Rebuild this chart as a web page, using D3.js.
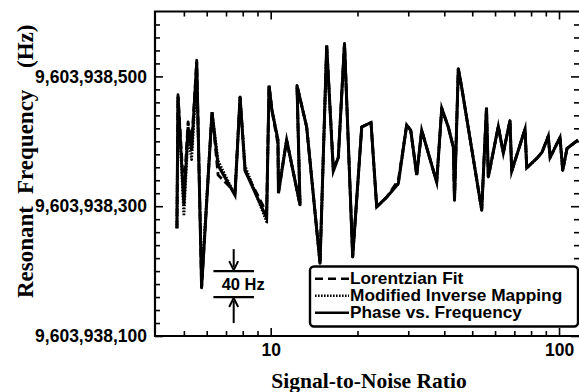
<!DOCTYPE html>
<html><head><meta charset="utf-8">
<script src="https://cdn.jsdelivr.net/npm/d3@7"></script>
<style>body{margin:0;background:#fff}svg{display:block}</style>
</head><body>
<svg id="c" width="579" height="392"></svg>
<script>
// Signal-to-noise ratio of each measurement
const snr = [4.73,4.77,5.00,5.17,5.32,5.54,5.76,6.26,6.57,7.52,7.83,8.15,9.68,9.87,10.1,10.6,10.64,11.36,12.64,12.34,13.33,14.83,15.64,16.49,17.16,18.03,19.25,20.69,22.28,23.32,25.26,27.71,29.63,30.6,32.1,33.4,37.65,39.2,41.3,43.0,43.4,44.74,45.97,53.93,56.04,56.86,61.57,64.09,67.6,68.53,76.24,77.27,83.88,87.3,91.8,93.1,100.8,103,106.6,116.4];
// Resonant frequency (Hz), Phase vs. Frequency
const phaseVsFrequency = [9603938266,9603938469,9603938302,9603938422,9603938386,9603938522,9603938174,9603938445,9603938363,9603938317,9603938468,9603938355,9603938282,9603938486,9603938448,9603938402,9603938320,9603938402,9603938302,9603938486,9603938422,9603938212,9603938548,9603938354,9603938375,9603938551,9603938222,9603938422,9603938429,9603938299,9603938314,9603938335,9603938425,9603938417,9603938348,9603938417,9603938337,9603938451,9603938422,9603938391,9603938309,9603938512,9603938483,9603938294,9603938452,9603938345,9603938423,9603938382,9603938432,9603938354,9603938419,9603938359,9603938374,9603938383,9603938408,9603938375,9603938406,9603938355,9603938389,9603938402];
// Resonant frequency (Hz), Lorentzian Fit
const lorentzianFit = [9603938266,9603938472,9603938320,9603938430,9603938395,9603938525,9603938174,9603938445,9603938348,9603938322,9603938468,9603938355,9603938290,9603938486,9603938448,9603938395,9603938320,9603938402,9603938302,9603938486,9603938422,9603938212,9603938548,9603938360,9603938375,9603938551,9603938222,9603938422,9603938429,9603938299,9603938314,9603938340,9603938425,9603938417,9603938348,9603938417,9603938337,9603938451,9603938422,9603938391,9603938309,9603938512,9603938483,9603938294,9603938452,9603938345,9603938423,9603938382,9603938432,9603938354,9603938419,9603938359,9603938374,9603938383,9603938408,9603938375,9603938406,9603938355,9603938389,9603938402];
// Resonant frequency (Hz), Modified Inverse Mapping
const modifiedInverseMapping = [9603938266,9603938469,9603938285,9603938410,9603938372,9603938505,9603938185,9603938445,9603938370,9603938317,9603938468,9603938362,9603938276,9603938486,9603938448,9603938402,9603938326,9603938402,9603938302,9603938486,9603938422,9603938212,9603938548,9603938354,9603938375,9603938551,9603938222,9603938422,9603938429,9603938299,9603938314,9603938335,9603938425,9603938417,9603938348,9603938417,9603938337,9603938451,9603938422,9603938391,9603938309,9603938512,9603938483,9603938294,9603938452,9603938345,9603938423,9603938382,9603938432,9603938354,9603938419,9603938359,9603938374,9603938383,9603938408,9603938375,9603938406,9603938355,9603938389,9603938402];

const xTickMajor = [10, 100];
const xTickMinor = [5,6,7,8,9,20,30,40,50,60,70,80,90];
const yTickMajor = [9603938100, 9603938300, 9603938500];
const yTickMinor = [9603938120,9603938140,9603938160,9603938180,9603938200,9603938220,9603938240,9603938260,9603938280,9603938320,9603938340,9603938360,9603938380,9603938400,9603938420,9603938440,9603938460,9603938480,9603938520,9603938540,9603938560,9603938580];
const legendLabels = ["Lorentzian Fit","Modified Inverse Mapping","Phase vs. Frequency"];
const scaleBarHz = [9603938160, 9603938200];
const scaleBarSnr = [6.33, 8.75];
const scaleBarText = "40 Hz";
const yTitleWords = ["Resonant", "Frequency", "(Hz)"];

const L = 155, R = 579, T = 11.5, B = 336;
const svg = d3.select("#c");
svg.append("rect").attr("width",579).attr("height",392).attr("fill","#fff");

const x = d3.scaleLog().domain([3.97, 117.3]).range([L, R]);
const y = d3.scaleLinear().domain([9603938100, 9603938600]).range([B, T]);

const sansB = "'Liberation Sans', Arial, Helvetica, sans-serif";
const serifB = "'Liberation Serif', 'Times New Roman', serif";

function styleAxis(g) {
  g.select(".domain").remove();
  g.selectAll(".tick line").attr("stroke","#000").attr("stroke-width",1.6);
  g.selectAll("text").attr("fill","#000").attr("font-family",sansB)
   .attr("font-weight","bold").attr("font-size",17.5);
}

// bottom
svg.append("g").attr("transform",`translate(0,${B})`)
  .call(d3.axisBottom(x).tickValues(xTickMajor).tickSize(-8).tickPadding(8).tickFormat(d3.format("d")))
  .call(styleAxis);
svg.append("g").attr("transform",`translate(0,${B})`)
  .call(d3.axisBottom(x).tickValues(xTickMinor).tickSize(-5).tickFormat(""))
  .call(styleAxis);
// top
svg.append("g").attr("transform",`translate(0,${T})`)
  .call(d3.axisTop(x).tickValues(xTickMajor).tickSize(-8).tickFormat(""))
  .call(styleAxis);
svg.append("g").attr("transform",`translate(0,${T})`)
  .call(d3.axisTop(x).tickValues(xTickMinor).tickSize(-5).tickFormat(""))
  .call(styleAxis);
// left
svg.append("g").attr("transform",`translate(${L},0)`)
  .call(d3.axisLeft(y).tickValues(yTickMajor).tickSize(-8).tickPadding(8).tickFormat(d3.format(",")))
  .call(styleAxis);
svg.append("g").attr("transform",`translate(${L},0)`)
  .call(d3.axisLeft(y).tickValues(yTickMinor).tickSize(-5).tickFormat(""))
  .call(styleAxis);
// right
svg.append("g").attr("transform",`translate(${R},0)`)
  .call(d3.axisRight(y).tickValues(yTickMajor).tickSize(-8).tickFormat(""))
  .call(styleAxis);
svg.append("g").attr("transform",`translate(${R},0)`)
  .call(d3.axisRight(y).tickValues(yTickMinor).tickSize(-5).tickFormat(""))
  .call(styleAxis);

// frame
svg.append("path")
  .attr("d",`M${R+4},${T}H${L}V${B}H${R+4}`)
  .attr("fill","none").attr("stroke","#000").attr("stroke-width",2.2);

// series
const line = d3.line().x((d,i)=>x(snr[i])).y(d=>y(d));
svg.append("path").datum(modifiedInverseMapping).attr("d",line)
  .attr("fill","none").attr("stroke","#000").attr("stroke-width",2.8)
  .attr("stroke-dasharray","1.6,1.4").attr("stroke-linejoin","round");
svg.append("path").datum(lorentzianFit).attr("d",line)
  .attr("fill","none").attr("stroke","#000").attr("stroke-width",2.8)
  .attr("stroke-dasharray","8,4").attr("stroke-linejoin","round");
svg.append("path").datum(phaseVsFrequency).attr("d",line)
  .attr("fill","none").attr("stroke","#000").attr("stroke-width",3)
  .attr("stroke-linejoin","miter").attr("stroke-miterlimit",6);

// 40 Hz scale bar
const sb = svg.append("g");
scaleBarHz.forEach(v=>{
  sb.append("line").attr("x1",x(scaleBarSnr[0])).attr("x2",x(scaleBarSnr[1]))
    .attr("y1",y(v)).attr("y2",y(v)).attr("stroke","#000").attr("stroke-width",2.2);
});
const ax = (x(scaleBarSnr[0])+x(scaleBarSnr[1]))/2;
const yTop = y(scaleBarHz[1]), yBot = y(scaleBarHz[0]);
sb.append("line").attr("x1",ax).attr("x2",ax).attr("y1",yTop-22).attr("y2",yTop-4)
  .attr("stroke","#000").attr("stroke-width",2);
sb.append("path").attr("d",`M${ax-4.5},${yTop-10}L${ax},${yTop-1}L${ax+4.5},${yTop-10}`)
  .attr("fill","none").attr("stroke","#000").attr("stroke-width",2);
sb.append("line").attr("x1",ax).attr("x2",ax).attr("y1",yBot+4).attr("y2",yBot+26)
  .attr("stroke","#000").attr("stroke-width",2);
sb.append("path").attr("d",`M${ax-4.5},${yBot+10}L${ax},${yBot+1}L${ax+4.5},${yBot+10}`)
  .attr("fill","none").attr("stroke","#000").attr("stroke-width",2);
sb.append("text").attr("x",ax-12).attr("y",(yTop+yBot)/2).attr("dy","0.36em")
  .attr("font-family",sansB).attr("font-weight","bold").attr("font-size",16.5)
  .text(scaleBarText);

// legend
const lg = svg.append("g");
lg.append("rect").attr("x",310).attr("y",266.5).attr("width",268).attr("height",60).attr("rx",4)
  .attr("fill","#fff").attr("stroke","#000").attr("stroke-width",2.4);
const dashes = ["8,5","1.6,1.4",null];
legendLabels.forEach((t,i)=>{
  const by = 284.3 + i*17;
  const l = lg.append("line").attr("x1",315).attr("x2",349).attr("y1",by-5.5).attr("y2",by-5.5)
    .attr("stroke","#000").attr("stroke-width",2.4);
  if (dashes[i]) l.attr("stroke-dasharray",dashes[i]);
  lg.append("text").attr("x",350).attr("y",by)
    .attr("font-family",sansB).attr("font-weight","bold").attr("font-size",17.3).text(t);
});

// axis titles
svg.append("text").attr("x",369).attr("y",388).attr("text-anchor","middle")
  .attr("font-family",serifB).attr("font-weight","bold").attr("font-size",21.5)
  .text("Signal-to-Noise Ratio");
// y title: words placed in the gaps between the tick labels (rotated coordinates: x = -pageY)
const yt = svg.append("text").attr("transform","translate(33,0) rotate(-90)")
  .attr("font-family",serifB).attr("font-weight","bold").attr("font-size",23);
const wordPos = [-298, -194, -68];
yTitleWords.forEach((w,i)=>{
  yt.append("tspan").attr("x", wordPos[i]).attr("y",0).text(w);
});
</script>
</body></html>
